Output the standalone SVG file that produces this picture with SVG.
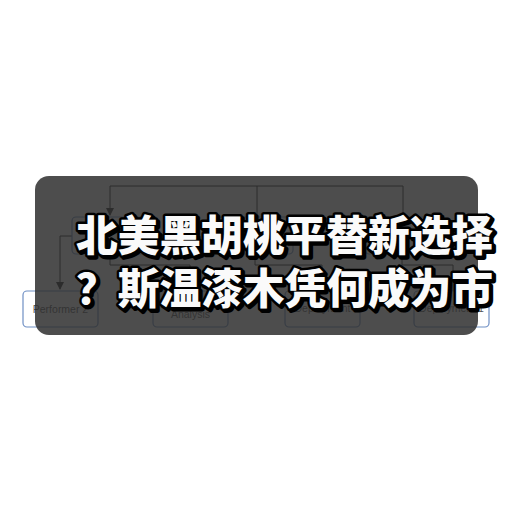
<svg xmlns="http://www.w3.org/2000/svg" width="512" height="512" viewBox="0 0 512 512">
<style>
.box{fill:#ffffff;stroke:#6f8fc4;stroke-width:1.2}
.lbl{font-family:"Liberation Sans",Arial,sans-serif;font-size:10.5px;fill:#555;text-anchor:middle}
.conn{fill:none;stroke:#222;stroke-width:1}
.title{font-family:"Noto Sans CJK SC","Noto Sans",sans-serif;font-weight:900;font-size:42px;fill:#fafafa;stroke:#000;stroke-width:5;stroke-linejoin:round;paint-order:stroke}
.shadow{font-family:"Noto Sans CJK SC","Noto Sans",sans-serif;font-weight:900;font-size:42px;fill:#000;stroke:#000;stroke-width:5;stroke-linejoin:round}
</style>
<defs>
<marker id="arr" markerWidth="8" markerHeight="8" refX="7" refY="4" orient="auto" markerUnits="userSpaceOnUse">
<path d="M0,0 L8,4 L0,8 Z" fill="#222"/>
</marker>
</defs>
<rect width="512" height="512" fill="#ffffff"/>
<g id="connectors">
<path class="conn" d="M257,217 V186 H110 V215" marker-end="url(#arr)"/>
<path class="conn" d="M257,186 H403 V217"/>
<path class="conn" d="M72,236 H60 V289" marker-end="url(#arr)"/>
<path class="conn" d="M110,254 V265 H190 V291"/>
<path class="conn" d="M255,254 V265 H322 V291"/>
<path class="conn" d="M402,254 V265 H453 V291"/>
</g>
<g id="nodeA"><rect class="box" x="72" y="217" width="75" height="37" rx="4"/></g>
<g id="nodeB"><rect class="box" x="218" y="217" width="75" height="37" rx="4"/></g>
<g id="nodeC"><rect class="box" x="365" y="217" width="75" height="37" rx="4"/></g>
<g id="performer2"><rect class="box" x="23" y="291" width="75" height="36" rx="4"/><text class="lbl" x="60.5" y="313">Performer 2</text></g>
<g id="analysis"><rect class="box" x="153" y="291" width="75" height="36" rx="4"/><text class="lbl" x="190.5" y="318">Analysis</text></g>
<g id="deployment"><rect class="box" x="285" y="291" width="75" height="36" rx="4"/><text class="lbl" x="322.5" y="312">Deployment</text></g>
<g id="deployment1"><rect class="box" x="414" y="291" width="75" height="36" rx="4"/><text class="lbl" x="451.5" y="312">Deployment 1</text></g>
<rect id="overlay" x="35" y="176" width="443" height="159" rx="14" fill="#2e2e2e" fill-opacity="0.85"/>
<g id="title">
<text class="shadow" x="78" y="253" textLength="417" lengthAdjust="spacingAndGlyphs">北美黑胡桃平替新选择</text>
<text class="shadow" x="78" y="306" textLength="417" lengthAdjust="spacingAndGlyphs">？斯温漆木凭何成为市</text>
<text class="title" x="76" y="251" textLength="417" lengthAdjust="spacingAndGlyphs">北美黑胡桃平替新选择</text>
<text class="title" x="76" y="304" textLength="417" lengthAdjust="spacingAndGlyphs">？斯温漆木凭何成为市</text>
</g>
</svg>
